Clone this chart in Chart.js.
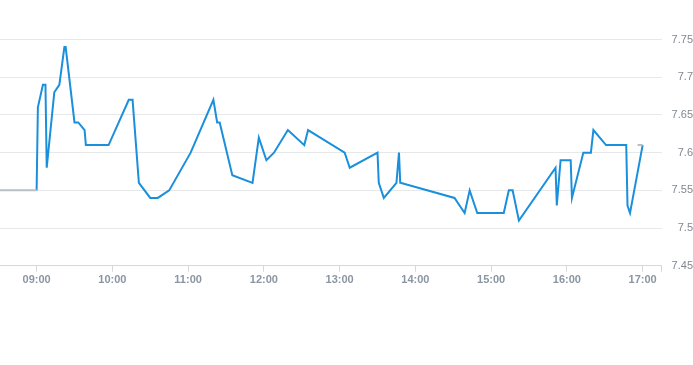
<!DOCTYPE html>
<html>
<head>
<meta charset="utf-8">
<script src="https://cdn.jsdelivr.net/npm/chart.js@4"></script>
<style>
  html, body { margin: 0; padding: 0; background: #fff; }
  #wrap { position: relative; width: 693px; height: 289px; }
</style>
</head>
<body>
<div id="wrap"><canvas id="chart"></canvas></div>
<script>
// intraday trade times and prices
const times = ['09:00', '09:01', '09:05', '09:07', '09:08', '09:14', '09:18', '09:22', '09:23', '09:30',
    '09:33', '09:38', '09:39', '09:57', '10:13', '10:16', '10:21', '10:30', '10:36', '10:45',
    '11:02', '11:20', '11:23', '11:25', '11:35', '11:51', '11:56', '12:02', '12:08', '12:19',
    '12:32', '12:35', '13:04', '13:08', '13:30', '13:31', '13:35', '13:45', '13:47', '13:48',
    '14:31', '14:35', '14:39', '14:43', '14:49', '15:10', '15:14', '15:17', '15:22', '15:51',
    '15:52', '15:55', '16:03', '16:04', '16:13', '16:19', '16:21', '16:31', '16:47', '16:48',
    '16:50', '17:00'];
const prices = [7.55, 7.66, 7.69, 7.69, 7.58, 7.68, 7.69, 7.74, 7.74, 7.64,
    7.64, 7.63, 7.61, 7.61, 7.67, 7.67, 7.56, 7.54, 7.54, 7.55,
    7.60, 7.67, 7.64, 7.64, 7.57, 7.56, 7.62, 7.59, 7.60, 7.63,
    7.61, 7.63, 7.60, 7.58, 7.60, 7.56, 7.54, 7.56, 7.60, 7.56,
    7.54, 7.53, 7.52, 7.55, 7.52, 7.52, 7.55, 7.55, 7.51, 7.58,
    7.53, 7.59, 7.59, 7.54, 7.60, 7.60, 7.63, 7.61, 7.61, 7.53,
    7.52, 7.61];

// grey segments: pre-open level and closing auction
const auctionTimes = ['08:30', '09:00', '16:56', '16:56', '17:00'];
const auctionPrices = [7.55, 7.55, null, 7.61, 7.61];

const hourTicks = ['09:00', '10:00', '11:00', '12:00', '13:00', '14:00', '15:00', '16:00', '17:00'];
const priceTicks = [7.45, 7.5, 7.55, 7.6, 7.65, 7.7, 7.75];

const toMin = (s) => {
    const [h, m] = s.split(':').map(Number);
    return h * 60 + m;
};
const fmt = (v) => {
    const h = Math.floor(v / 60), m = v % 60;
    return String(h).padStart(2, '0') + ':' + String(m).padStart(2, '0');
};

const mainData = times.map((t, i) => ({ x: toMin(t), y: prices[i] }));
const greyData = auctionTimes.map((t, i) => ({ x: toMin(t), y: auctionPrices[i] }));

const xMin = 511, xMax = 1035;

new Chart(document.getElementById('chart'), {
    type: 'line',
    data: {
        datasets: [
            {
                data: greyData,
                borderColor: '#b9bec3',
                borderWidth: 2,
                pointRadius: 0,
                tension: 0,
                spanGaps: false
            },
            {
                data: mainData,
                borderColor: '#1a8fdc',
                borderWidth: 2,
                pointRadius: 0,
                tension: 0
            }
        ]
    },
    options: {
        responsive: true,
        maintainAspectRatio: false,
        animation: false,
        layout: { padding: 0 },
        plugins: {
            legend: { display: false },
            tooltip: { enabled: false }
        },
        scales: {
            x: {
                type: 'linear',
                min: xMin,
                max: xMax,
                afterBuildTicks: (scale) => {
                    scale.ticks = hourTicks.map((t) => ({ value: toMin(t) })).concat([{ value: xMax }]);
                },
                grid: {
                    drawOnChartArea: false,
                    drawTicks: true,
                    tickLength: 6,
                    color: '#d6d9dc'
                },
                border: { display: true, color: '#d6d9dc' },
                ticks: {
                    maxRotation: 0,
                    autoSkip: false,
                    padding: 2,
                    color: '#8a96a2',
                    font: { size: 11, weight: 'bold' },
                    callback: (v) => (v % 60 === 0 ? fmt(v) : '')
                }
            },
            y: {
                position: 'right',
                min: 7.45,
                max: 7.787,
                afterBuildTicks: (scale) => {
                    scale.ticks = priceTicks.map((v) => ({ value: v }));
                },
                grid: {
                    drawTicks: false,
                    color: '#e6e8ea'
                },
                border: { display: false },
                ticks: {
                    padding: 5,
                    crossAlign: 'far',
                    color: '#808890',
                    font: { size: 11 },
                    callback: (v) => String(Math.round(v * 100) / 100)
                }
            }
        }
    }
});
</script>
</body>
</html>
